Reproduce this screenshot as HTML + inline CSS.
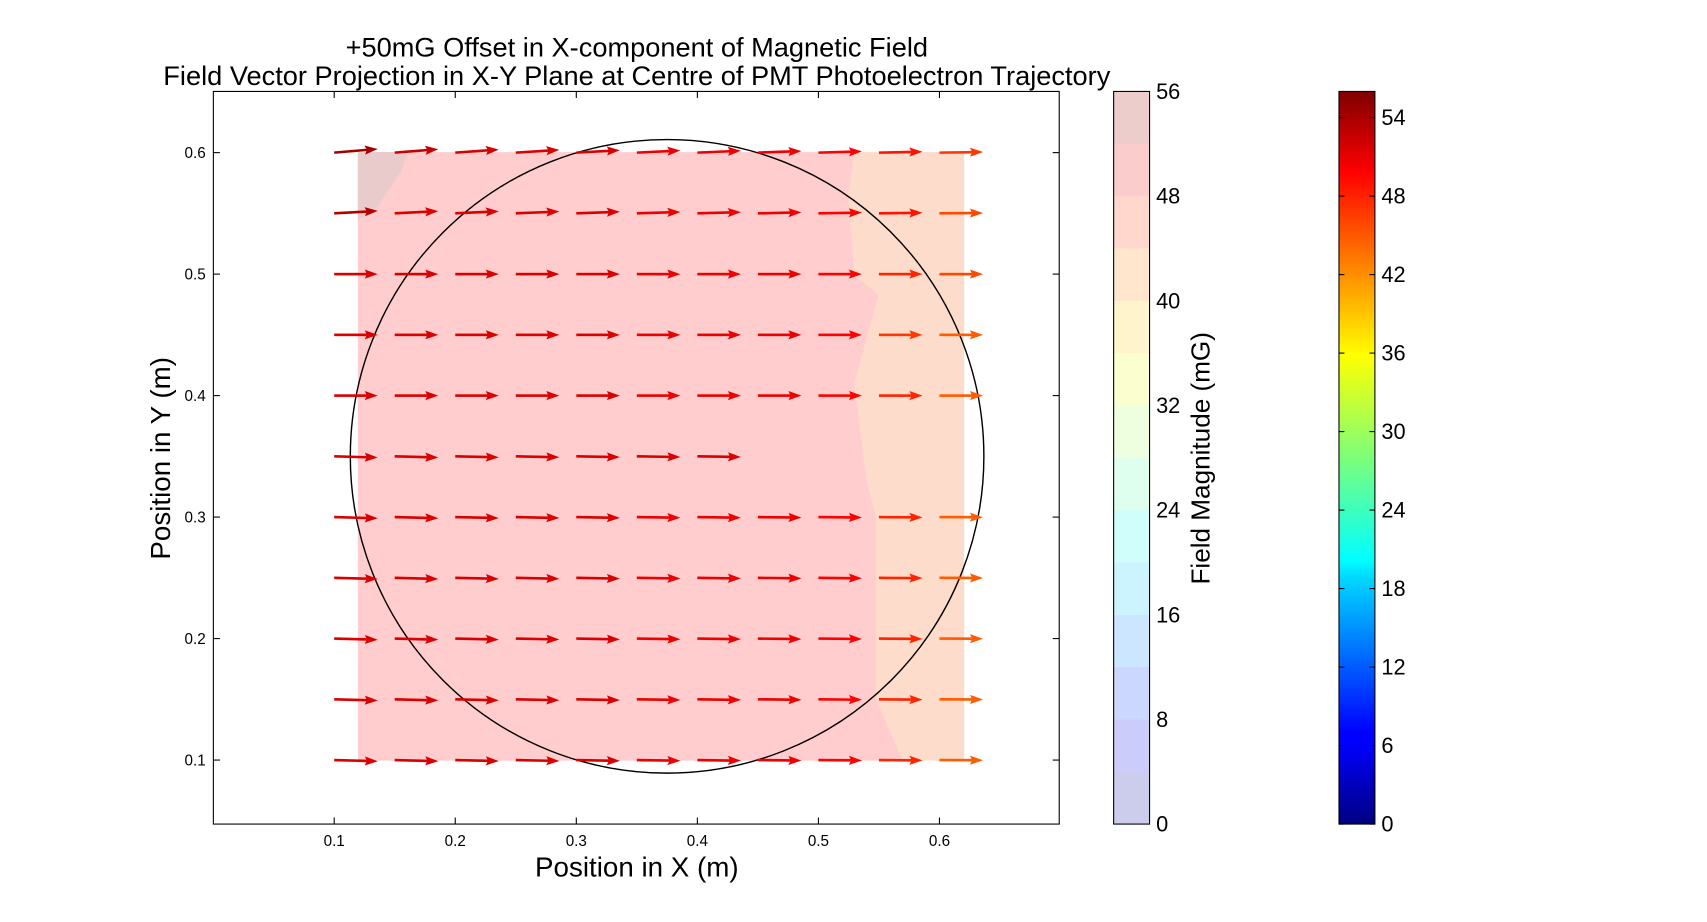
<!DOCTYPE html>
<html><head><meta charset="utf-8"><style>
body{margin:0;background:#fff;font-family:"Liberation Sans",sans-serif}
svg text{font-family:"Liberation Sans",sans-serif}
</style></head><body>
<svg id="s" width="1707" height="917" xmlns="http://www.w3.org/2000/svg">
<defs>
<linearGradient id="jet" x1="0" y1="1" x2="0" y2="0">
<stop offset="0" stop-color="#000080"/><stop offset="0.11" stop-color="#0000ff"/><stop offset="0.125" stop-color="#0000ff"/>
<stop offset="0.34" stop-color="#00dcff"/><stop offset="0.36" stop-color="#00ffff"/><stop offset="0.5" stop-color="#7cff79"/>
<stop offset="0.64" stop-color="#ffff00"/><stop offset="0.66" stop-color="#ffea00"/><stop offset="0.89" stop-color="#ff0000"/><stop offset="1" stop-color="#800000"/>
</linearGradient>
<clipPath id="pc"><rect x="196" y="84" width="777" height="673"/></clipPath>
</defs>
<g transform="scale(1.0886)">
<text x="585" y="52" text-anchor="middle" font-size="25">+50mG Offset in X-component of Magnetic Field</text>
<text x="585" y="78" text-anchor="middle" font-size="25">Field Vector Projection in X-Y Plane at Centre of PMT Photoelectron Trajectory</text>
<g id="plot" clip-path="url(#pc)"></g>
<rect x="196" y="84" width="777" height="673" fill="none" stroke="#000" stroke-width="1"/>
<g id="axes"></g>
<text x="585" y="805" text-anchor="middle" font-size="25.5">Position in X (m)</text>
<text transform="translate(156,421) rotate(-90)" text-anchor="middle" font-size="25.5">Position in Y (m)</text>
<g id="cb1"></g>
<text transform="translate(1111,421) rotate(-90)" text-anchor="middle" font-size="24">Field Magnitude (mG)</text>
<g id="cb2"></g>
</g>
</svg>
<script>
const xTicks=[0.1,0.2,0.3,0.4,0.5,0.6];
const yTicks=[0.1,0.2,0.3,0.4,0.5,0.6];
const gridX=[0.1,0.15,0.2,0.25,0.3,0.35,0.4,0.45,0.5,0.55,0.6];
const gridY=[0.6,0.55,0.5,0.45,0.4,0.35,0.3,0.25,0.2,0.15,0.1];
const magRows=[
[54,52,51,51,51,50,50,50,49,48,46],
[53,51,51,51,51,50,50,50,49,48,45],
[51,51,51,51,51,50,50,50,49,47,45],
[51,51,51,51,51,50,50,50,49,46,44],
[51,51,51,51,51,50,50,50,49,47,44],
[51,51,51,51,51,51,51,0,0,0,0],
[51,51,51,51,51,50,50,50,49,47,44],
[51,51,51,51,51,50,50,50,49,47,44],
[51,51,51,51,51,50,50,50,49,47,44],
[51,51,51,51,51,50,50,50,49,47,44],
[51,51,51,51,51,50,50,50,49,47,44]];
const dyRows=[0.003,0.002,0,0,0,-0.001,-0.001,-0.001,-0.001,-0.001,-0.001];
const levels=[0,4,8,12,16,20,24,28,32,36,40,44,48,52,56];
const cb1Ticks=[0,8,16,24,32,40,48,56];
const cb2Ticks=[0,6,12,18,24,30,36,42,48,54];
const vmax=56;
const regionHigh=[[0.12,0.6],[0.16,0.6],[0.155,0.585],[0.135,0.555],[0.12,0.545]];
const regionMid=[[0.12,0.6],[0.53,0.6],[0.525,0.565],[0.53,0.5],[0.55,0.483],[0.53,0.41],[0.54,0.33],[0.548,0.3],[0.548,0.15],[0.57,0.1],[0.12,0.1]];
const regionLow=[[0.53,0.6],[0.62,0.6],[0.62,0.1],[0.57,0.1],[0.548,0.15],[0.548,0.3],[0.54,0.33],[0.53,0.41],[0.55,0.483],[0.53,0.5],[0.525,0.565]];
const sx=v=>195.8+v*1112;
const sy=v=>809.8-v*1116;
const NS="http://www.w3.org/2000/svg";
function mk(t,a,p){const e=document.createElementNS(NS,t);for(const k in a)e.setAttribute(k,a[k]);p.appendChild(e);return e;}
function jet(v){const t=Math.max(0,Math.min(1,v/vmax));
 const f=x=>Math.max(0,Math.min(1,x));
 const r=f(1.5-Math.abs(4*t-3)),g=f(1.5-Math.abs(4*t-2)),b=f(1.5-Math.abs(4*t-1));
 return `rgb(${Math.round(r*255)},${Math.round(g*255)},${Math.round(b*255)})`;}
const plot=document.getElementById('plot');
function poly(pts,fill,name){const e=mk('polygon',{points:pts.map(p=>sx(p[0])+','+sy(p[1])).join(' '),fill:fill,stroke:fill,'stroke-width':1},plot);
 
 }
poly(regionMid,'#ffcdcd','contour-48-52');
poly(regionLow,'#fddccb','contour-44-48');
poly(regionHigh,'#e9cbcb','contour-52-56');
const circ=mk('circle',{cx:sx(0.375),cy:sy(0.35),r:291,fill:'none',stroke:'#000','stroke-width':1.3},plot);


gridY.forEach((y,i)=>{gridX.forEach((x,j)=>{const m=magRows[i][j];if(!m)return;
 const c=jet(m);const x0=sx(x),y0=sy(y),x1=sx(x+0.036),y1=sy(y+dyRows[i]*(1-j/12));
 const ang=Math.atan2(y1-y0,x1-x0);const L=Math.hypot(x1-x0,y1-y0);
 const g=mk('g',{transform:`translate(${x0},${y0}) rotate(${ang*180/Math.PI})`},plot);
 
 
 mk('rect',{x:0,y:-1.2,width:L-10,height:2.4,fill:c},g);
 mk('polygon',{points:`${L-12},-4.2 ${L},0 ${L-12},4.2 ${L-10},0`,fill:c},g);
});});
const ax=document.getElementById('axes');
xTicks.forEach(v=>{const x=sx(v);mk('line',{x1:x,x2:x,y1:757,y2:751,stroke:'#000'},ax);mk('line',{x1:x,x2:x,y1:84,y2:90,stroke:'#000'},ax);
 const t=mk('text',{x:x,y:777,'text-anchor':'middle','font-size':14},ax);t.textContent=v.toFixed(1);
 
 });
yTicks.forEach(v=>{const y=sy(v);mk('line',{x1:196,x2:202,y1:y,y2:y,stroke:'#000'},ax);mk('line',{x1:973,x2:967,y1:y,y2:y,stroke:'#000'},ax);
 const t=mk('text',{x:189,y:y+5,'text-anchor':'end','font-size':14},ax);t.textContent=v.toFixed(1);
 
 });
const cb1=document.getElementById('cb1');const cbTop=84,cbBot=757,cbH=cbBot-cbTop;
const cy=v=>cbBot-v/vmax*cbH;
for(let i=0;i<levels.length-1;i++){const y0=cy(levels[i+1]),y1=cy(levels[i]);
 const r=mk('rect',{x:1023,y:y0,width:33,height:y1-y0,fill:jet((levels[i]+levels[i+1])/2),'fill-opacity':0.2},cb1);
 
 }
mk('rect',{x:1023,y:cbTop,width:33,height:cbH,fill:'none',stroke:'#000'},cb1);
cb1Ticks.forEach(v=>{const y=cy(v);const t=mk('text',{x:1062,y:y+7,'font-size':20},cb1);t.textContent=v;
 
 });
const cb2=document.getElementById('cb2');
const r2=mk('rect',{x:1230,y:cbTop,width:33,height:cbH,fill:'url(#jet)',stroke:'#000'},cb2);


cb2Ticks.forEach(v=>{const y=cy(v);mk('line',{x1:1230,x2:1235,y1:y,y2:y,stroke:'#000'},cb2);mk('line',{x1:1263,x2:1258,y1:y,y2:y,stroke:'#000'},cb2);
 const t=mk('text',{x:1269,y:y+7,'font-size':20},cb2);t.textContent=v;
 
 });
</script>
</body></html>
